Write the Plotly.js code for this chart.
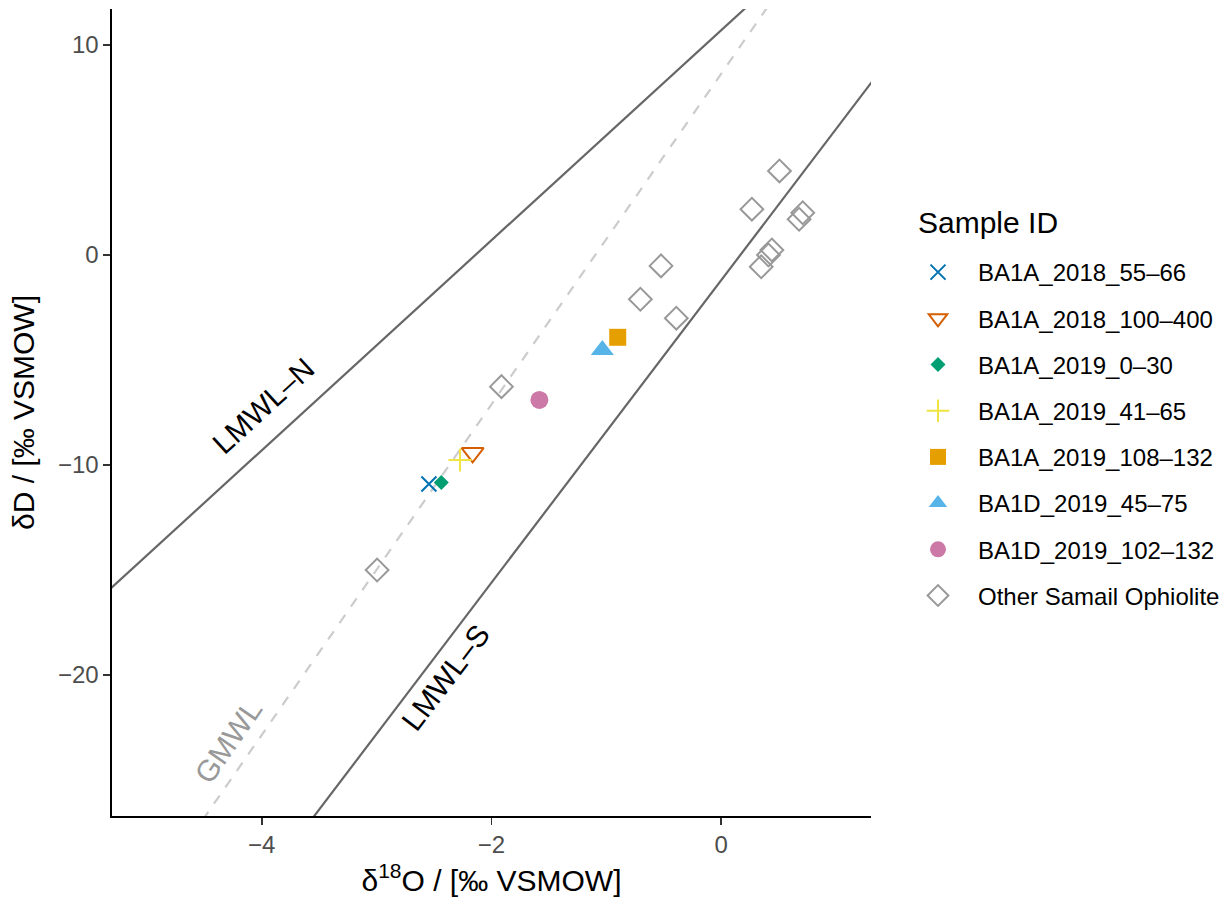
<!DOCTYPE html>
<html>
<head>
<meta charset="utf-8">
<script src="https://cdn.plot.ly/plotly-3.0.1.min.js"></script>
<style>html,body{margin:0;padding:0;background:#fff;}#chart{width:1226px;height:898px;}</style>
</head>
<body>
<div id="chart"></div>
<script>
// ---- data ----
const sampleNames = ['BA1A_2018_55–66','BA1A_2018_100–400','BA1A_2019_0–30','BA1A_2019_41–65','BA1A_2019_108–132','BA1D_2019_45–75','BA1D_2019_102–132'];
const sampleD18O = [-2.545, -2.164, -2.437, -2.274, -0.901, -1.035, -1.583];
const sampleDD   = [-10.90, -9.42, -10.83, -9.76, -3.92, -4.53, -6.90];

const otherName = 'Other Samail Ophiolite';
const otherD18O = [0.507, 0.267, 0.710, 0.678, 0.441, 0.411, 0.348, -0.524, -0.704, -0.391, -1.913, -2.996];
const otherDD   = [4.00, 2.18, 2.01, 1.70, 0.24, 0.00, -0.56, -0.52, -2.11, -3.01, -6.27, -15.0];

const lineNames = ['LMWL–N', 'LMWL–S', 'GMWL'];
const lineSlopes = [5.0, 7.2, 7.87];
const lineIntercepts = [10.7, -1.2, 8.63];
const labelX = [-3.983, -2.40, -4.291];
const labelY = [-7.19, -20.12, -23.18];

const xTitle = 'δ<sup>18</sup>O / [‰ VSMOW]';
const yTitle = 'δD / [‰ VSMOW]';
const legendTitle = 'Sample ID';

// ---- styles ----
const sampleStyles = [
  {symbol:'x-thin-open', color:'#0072B2', size:15, lw:2},
  {symbol:'triangle-down-open', color:'#D55E00', size:19, lw:2},
  {symbol:'diamond', color:'#009E73', size:11.5, lw:0},
  {symbol:'cross-thin-open', color:'#F0E442', size:16.5, lw:2},
  {symbol:'square', color:'#E69F00', size:17, lw:0},
  {symbol:'triangle-up', color:'#56B4E9', size:20, lw:0},
  {symbol:'circle', color:'#CC79A7', size:18, lw:0}
];
const lineStyles = [
  {color:'#666666', dash:'solid', width:2.2, text:'#000000'},
  {color:'#666666', dash:'solid', width:2.2, text:'#000000'},
  {color:'#CCCCCC', dash:'10px,10px', width:2.2, text:'#999999'}
];

const xRange = [-5.304, 1.304];
const yRange = [-26.71, 11.71];
const W = 1226, H = 898;
const margin = {l:112, r:355, t:9, b:82};
const pxPerX = (W - margin.l - margin.r) / (xRange[1] - xRange[0]);
const pxPerY = (H - margin.t - margin.b) / (yRange[1] - yRange[0]);

const font = 'Liberation Sans, Arial, Helvetica, sans-serif';
const traces = [];

// reference lines (computed across axis range)
lineNames.forEach((n, i) => {
  const xs = [xRange[0] - 1, xRange[1] + 1];
  traces.push({
    type:'scatter', mode:'lines', x: xs,
    y: xs.map(v => lineSlopes[i] * v + lineIntercepts[i]),
    line:{color: lineStyles[i].color, width: lineStyles[i].width, dash: lineStyles[i].dash},
    showlegend:false, hoverinfo:'skip', name:n
  });
});

sampleNames.forEach((n, i) => {
  const s = sampleStyles[i];
  traces.push({
    type:'scatter', mode:'markers', name:n, legendgroup:n,
    x:[sampleD18O[i]], y:[sampleDD[i]],
    marker:{symbol:s.symbol, color:s.color, size:s.size,
            line:{color:s.color, width: s.lw}},
    cliponaxis:false
  });
});

traces.push({
  type:'scatter', mode:'markers', name: otherName, legendgroup: otherName,
  x: otherD18O, y: otherDD,
  marker:{symbol:'diamond-open', color:'#999999', size:17.5, line:{color:'#999999', width:2}}
});

const annotations = lineNames.map((n, i) => ({
  x: labelX[i], y: labelY[i], xref:'x', yref:'y', text:n, showarrow:false,
  textangle: -Math.atan(lineSlopes[i] * pxPerY / pxPerX) * 180 / Math.PI,
  font:{family:font, size:30, color: lineStyles[i].text},
  xanchor:'center', yanchor:'middle'
}));
annotations.push({
  xref:'paper', yref:'paper',
  x: (916 - margin.l) / (W - margin.l - margin.r),
  y: 1 - (222 - margin.t) / (H - margin.t - margin.b),
  xanchor:'left', yanchor:'middle', showarrow:false, text: legendTitle,
  font:{family:font, size:30, color:'#000'}
});

const axisCommon = {
  showgrid:false, zeroline:false, showline:true, linecolor:'#000000', linewidth:1.6,
  ticks:'outside', ticklen:7, tickwidth:1.5, tickcolor:'#333333',
  tickfont:{family:font, size:24, color:'#4D4D4D'}, mirror:false
};

const layout = {
  width:W, height:H, margin:margin,
  paper_bgcolor:'#ffffff', plot_bgcolor:'#ffffff',
  font:{family:font},
  xaxis: Object.assign({}, axisCommon, {range:xRange, dtick:2, tick0:0,
    title:{text:xTitle, font:{family:font, size:30, color:'#000'}, standoff:12}}),
  yaxis: Object.assign({}, axisCommon, {range:yRange, dtick:10, tick0:0,
    title:{text:yTitle, font:{family:font, size:30, color:'#000'}, standoff:14}}),
  legend:{
    xref:'container', yref:'container', x: 898/W, y: 1 - 250/H, xanchor:'left', yanchor:'top',
    font:{family:font, size:24, color:'#000'}, itemwidth:70,
    tracegroupgap: 12, bgcolor:'rgba(0,0,0,0)'
  },
  annotations: annotations,
  showlegend:true
};

Plotly.newPlot('chart', traces, layout, {displayModeBar:false, staticPlot:true});
</script>
</body>
</html>
